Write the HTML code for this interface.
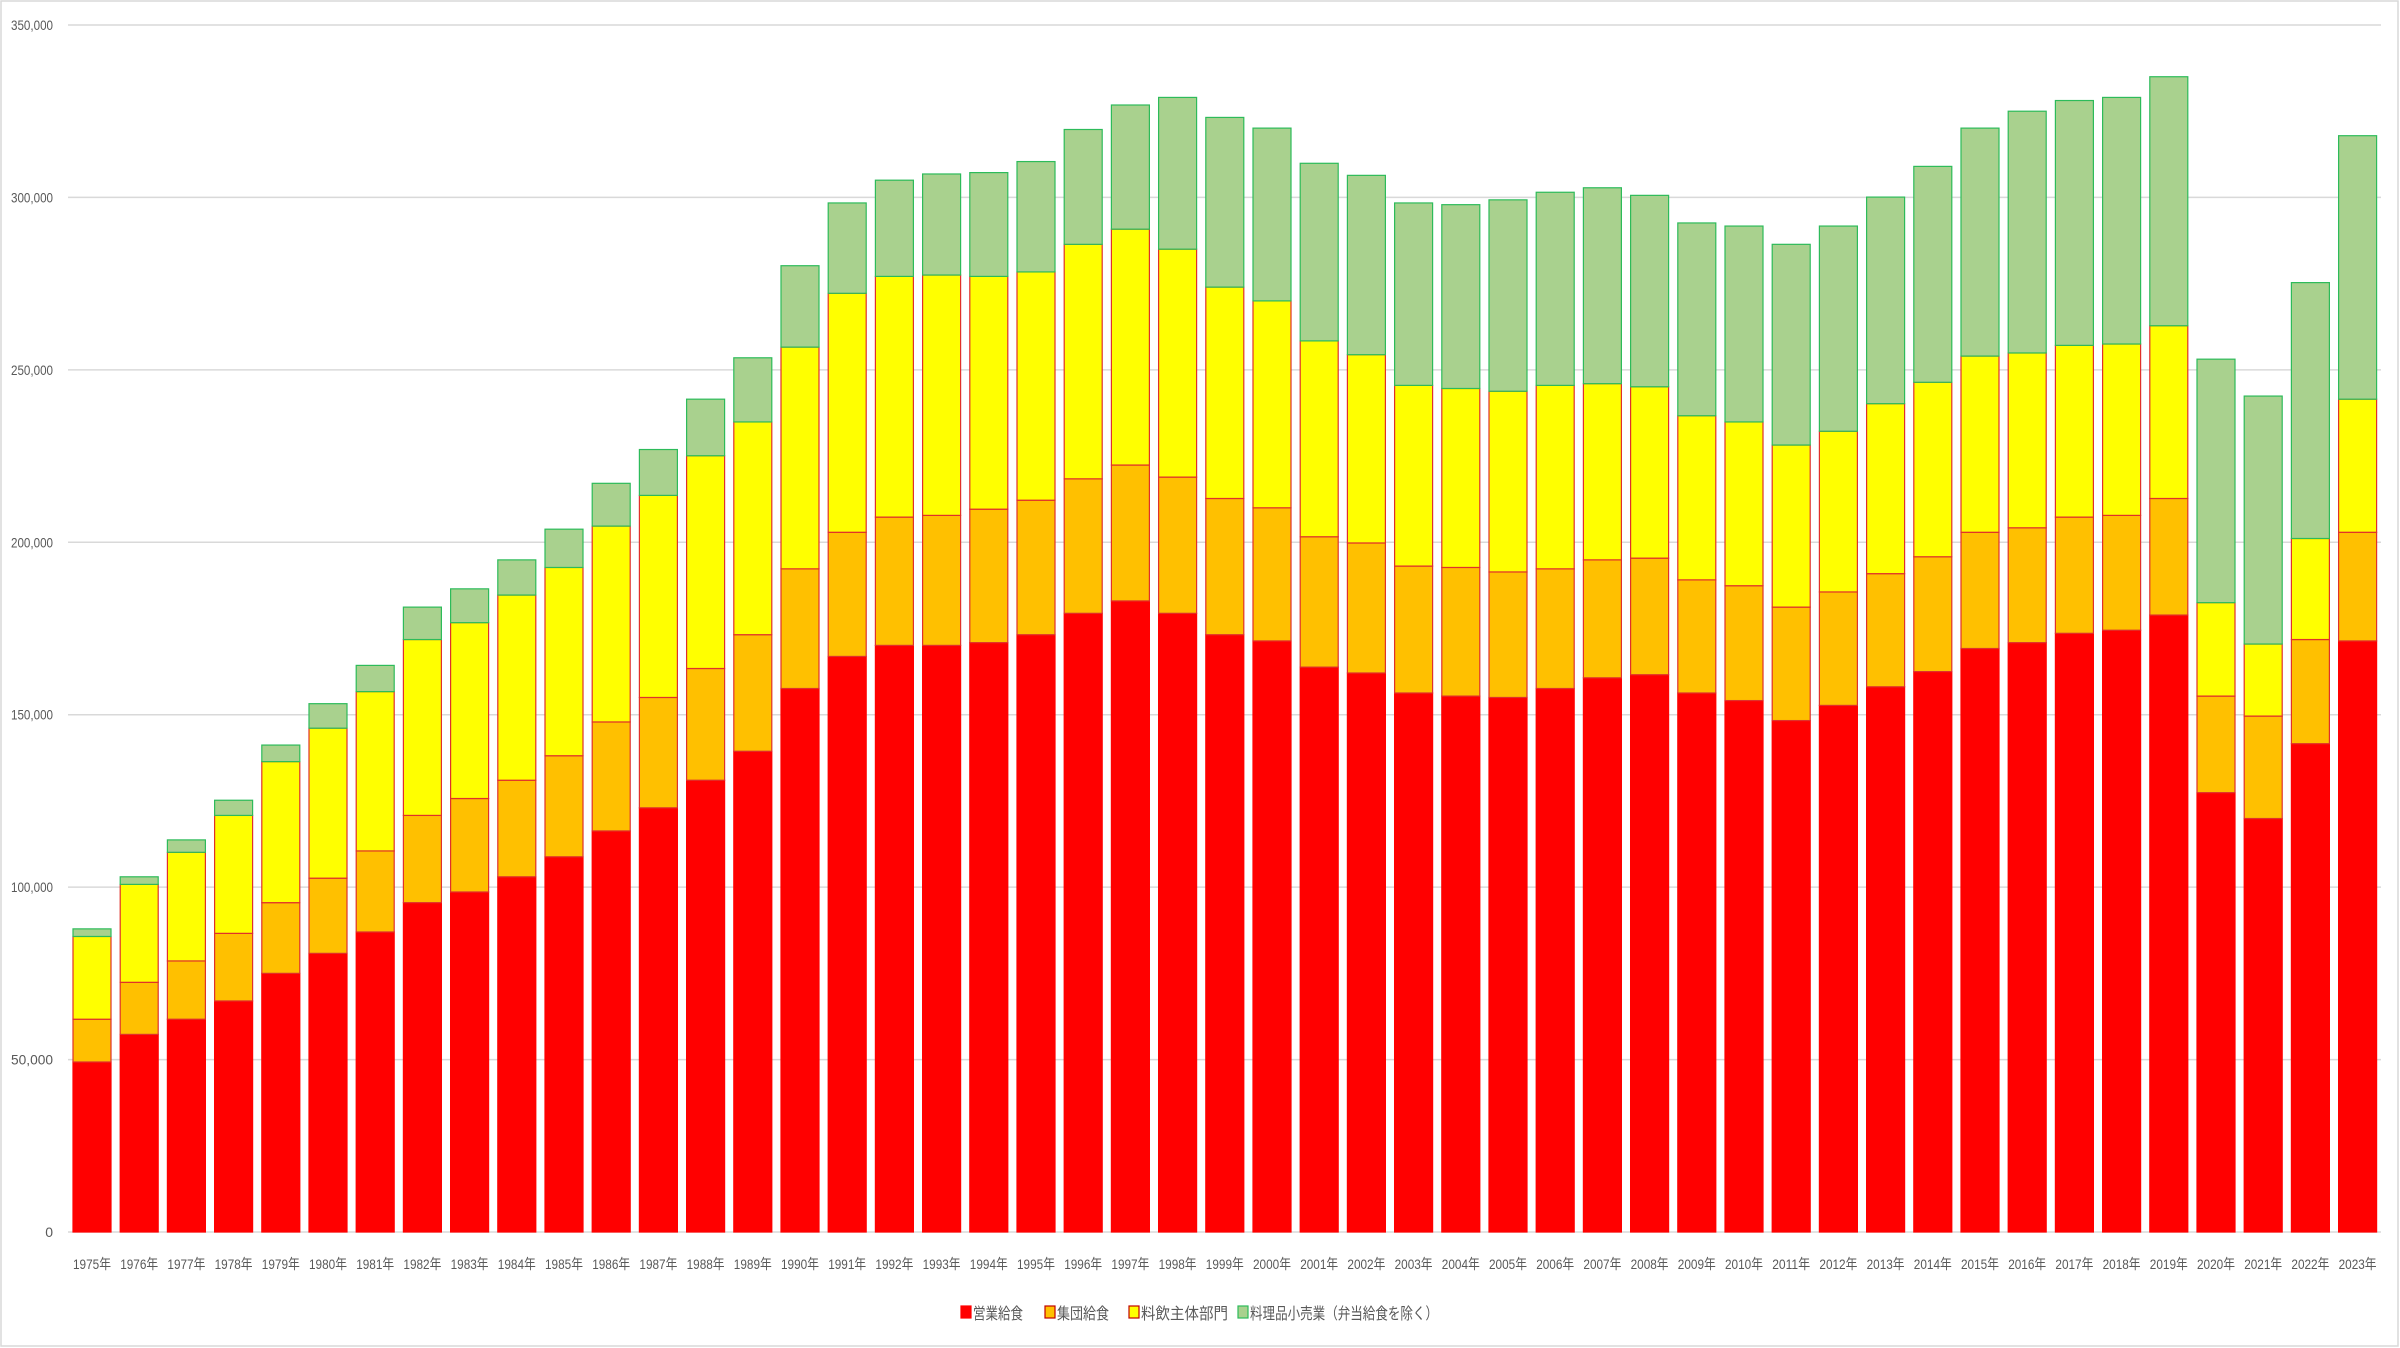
<!DOCTYPE html>
<html><head><meta charset="utf-8"><style>
html,body{margin:0;padding:0;background:#fff;}
svg{display:block;}
text{font-family:"Liberation Sans","Noto Sans CJK JP",sans-serif;fill:#595959;}
</style></head><body>
<svg id="c" width="2400" height="1348" xmlns="http://www.w3.org/2000/svg"></svg>
<script>
const d=[[49.3,61.7,85.7,87.9],[57.3,72.4,100.8,103.0],[61.7,78.6,110.1,113.7],[67.0,86.6,120.8,125.2],[75.0,95.5,136.4,141.2],[80.8,102.6,146.1,153.2],[87.0,110.5,156.7,164.3],[95.5,120.8,171.8,181.2],[98.6,125.7,176.7,186.5],[103.0,131.0,184.7,194.9],[108.8,138.1,192.7,203.8],[116.3,147.9,204.7,217.1],[123.0,155.0,213.6,226.9],[131.0,163.4,225.1,241.5],[139.4,173.2,234.9,253.5],[157.6,192.3,256.6,280.2],[166.9,202.9,272.2,298.4],[170.1,207.3,277.1,305.0],[170.1,207.8,277.5,306.8],[170.9,209.6,277.1,307.2],[173.2,212.2,278.4,310.4],[179.4,218.4,286.4,319.7],[183.0,222.4,290.8,326.8],[179.4,218.9,285.0,329.0],[173.2,212.7,274.0,323.2],[171.4,210.0,270.0,320.1],[163.8,201.6,258.4,309.9],[162.1,199.8,254.4,306.4],[156.3,193.1,245.5,298.4],[155.4,192.7,244.6,297.9],[155.0,191.4,243.8,299.3],[157.6,192.3,245.5,301.5],[160.7,194.9,246.0,302.8],[161.6,195.4,245.1,300.6],[156.3,189.1,236.7,292.6],[154.1,187.4,234.9,291.7],[148.3,181.2,228.2,286.4],[152.7,185.6,232.2,291.7],[158.1,190.9,240.2,300.1],[162.5,195.8,246.4,309.0],[169.2,202.9,254.0,320.1],[170.9,204.2,254.9,325.0],[173.6,207.3,257.1,328.1],[174.5,207.8,257.5,329.0],[178.9,212.7,262.8,335.0],[127.4,155.4,182.5,253.1],[119.9,149.6,170.5,242.4],[141.6,171.8,201.1,275.3],[171.4,202.9,241.5,317.9]];
const Y=v=>1232-v*1207/350;
let s='<rect x="1" y="1" width="2397" height="1345" fill="#fff" stroke="#d9d9d9" stroke-width="1.5"/>';
for(let i=0;i<=7;i++){const y=Y(i*50);s+=`<line x1="68" x2="2381" y1="${y}" y2="${y}" stroke="#d9d9d9" stroke-width="1.5"/>`;
s+=`<text x="53" y="${y+5}" font-size="14" text-anchor="end"${i?' textLength="42" lengthAdjust="spacingAndGlyphs"':''}>${i?(i*50)+',000':'0'}</text>`;}
const fills=['#FF0000','#FFC000','#FFFF00','#A9D18E'],strokes=['#FF0000','#E0312A','#E0312A','#2DBB5A'];
d.forEach((r,i)=>{const x=73+i*47.2,w=38;let prev=0;
r.forEach((v,k)=>{const y1=Y(v),y0=Y(prev);s+=`<rect x="${x}" y="${y1}" width="${w}" height="${y0-y1}" fill="${fills[k]}" stroke="${strokes[k]}" stroke-width="1.2"/>`;prev=v;});
s+=`<text x="${x}" y="1269" font-size="14" textLength="38" lengthAdjust="spacingAndGlyphs">${1975+i}年</text>`;});
const lg=[[961,'営業給食',50],[1045,'集団給食',52],[1129,'料飲主体部門',87],[1238,'料理品小売業（弁当給食を除く）',188]];
lg.forEach((l,k)=>{s+=`<rect x="${l[0]}" y="1306" width="10" height="12" fill="${fills[k]}" stroke="${k==3?'#2DBB5A':(k?'#C00000':'#FF0000')}" stroke-width="1.2"/>`;
s+=`<text x="${l[0]+12}" y="1319" font-size="16" textLength="${l[2]}" lengthAdjust="spacingAndGlyphs">${l[1]}</text>`;});
document.getElementById('c').innerHTML=s;
</script>
</body></html>
